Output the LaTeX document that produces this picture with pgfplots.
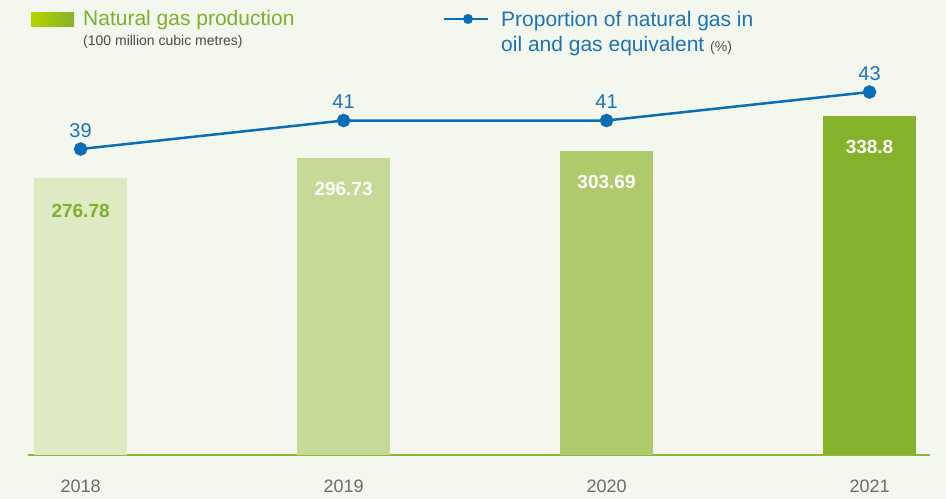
\documentclass[border=0pt]{standalone}
\usepackage{pgfplots}
\pgfplotsset{compat=1.18}
\usepackage{fontspec}
\setmainfont{Liberation Sans}
\definecolor{bg}{HTML}{F4F7EE}
\definecolor{cA}{HTML}{DFE9C2}
\definecolor{cB}{HTML}{C6DA97}
\definecolor{cC}{HTML}{AFCA6A}
\definecolor{cD}{HTML}{84B22A}
\definecolor{gtxt}{HTML}{7DB02B}
\definecolor{base}{HTML}{8AB83A}
\definecolor{lblue}{HTML}{0A6DB5}
\definecolor{tblue}{HTML}{1B74B9}
\definecolor{ygray}{HTML}{6B6B6B}
\definecolor{sgray}{HTML}{4A4A4A}
\definecolor{gradL}{HTML}{B8D300}
\begin{document}
\begin{tikzpicture}[x=1pt,y=1pt]
\fill[bg] (0,0) rectangle (946,499);
% legend
\shade[left color=gradL, right color=cD] (31,472) rectangle (74,486);
\node[anchor=base west, inner sep=0, text=gtxt, font=\fontsize{21}{24}\selectfont] at (83,473) {Natural gas production};
\node[anchor=base west, inner sep=0, text=sgray, font=\fontsize{14}{16}\selectfont] at (83,453) {(100 million cubic metres)};
\draw[lblue, line width=2.5pt] (444,480) -- (488,480);
\fill[lblue] (468,480) circle (5);
\node[anchor=base west, inner sep=0, text=tblue, font=\fontsize{21}{24}\selectfont] at (501,472) {Proportion of natural gas in};
\node[anchor=base west, inner sep=0, text=tblue, font=\fontsize{21}{24}\selectfont] at (501,447) {oil and gas equivalent \textcolor{sgray}{\fontsize{14}{16}\selectfont(\%)}};
\begin{axis}[
  at={(28pt,44pt)}, anchor=south west,
  scale only axis, width=902pt, height=415pt,
  xmin=-0.2, xmax=3.23, ymin=0, ymax=415,
  axis y line=none, axis x line=bottom,
  x axis line style={-, color=base, line width=1.5pt},
  xtick={0,1,2,3}, xticklabels={2018,2019,2020,2021},
  major tick length=0pt,
  xticklabel style={anchor=base, yshift=-37pt, text=ygray, font=\fontsize{18}{20}\selectfont},
  /pgf/number format/assume math mode=true,
  clip=false,
  every node near coord/.append style={anchor=center, yshift=-31pt, font=\bfseries\fontsize{19}{22}\selectfont},
]
\addplot[ybar, bar width=93pt, bar shift=0pt, fill=cA, draw=none, nodes near coords, every node near coord/.append style={text=gtxt, yshift=-2pt}] coordinates {(0,276.78)};
\addplot[ybar, bar width=93pt, bar shift=0pt, fill=cB, draw=none, nodes near coords, every node near coord/.append style={text=white}] coordinates {(1,296.73)};
\addplot[ybar, bar width=93pt, bar shift=0pt, fill=cC, draw=none, nodes near coords, every node near coord/.append style={text=white}] coordinates {(2,303.69)};
\addplot[ybar, bar width=93pt, bar shift=0pt, fill=cD, draw=none, nodes near coords, every node near coord/.append style={text=white}] coordinates {(3,338.8)};
\end{axis}
\begin{axis}[
  at={(28pt,44pt)}, anchor=south west,
  scale only axis, width=902pt, height=415pt,
  xmin=-0.2, xmax=3.23, ymin=17.53, ymax=46.65,
  hide axis, clip=false,
  /pgf/number format/assume math mode=true,
]
\addplot[lblue, line width=2.5pt, mark=*, mark size=5.5pt, mark options={fill=lblue},
  nodes near coords,
  every node near coord/.append style={anchor=base, yshift=12pt, text=tblue, font=\fontsize{20}{22}\selectfont}]
  coordinates {(0,39) (1,41) (2,41) (3,43)};
\end{axis}
\end{tikzpicture}
\end{document}
